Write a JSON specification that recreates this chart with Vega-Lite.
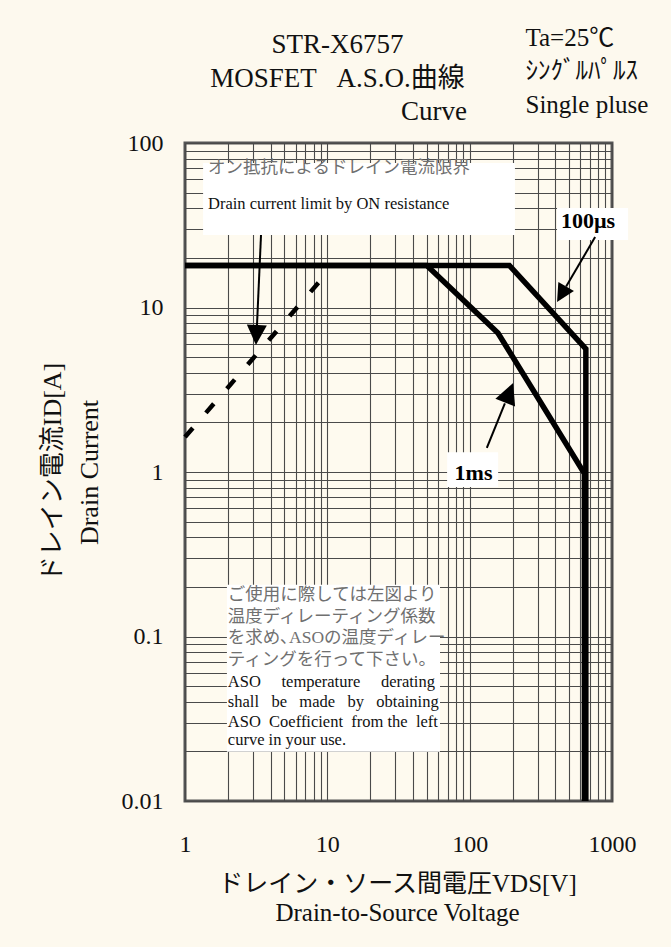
{
  "$schema": "https://vega.github.io/schema/vega-lite/v6.json",
  "width": 427,
  "height": 658,
  "autosize": {"type": "none"},
  "padding": {"left": 185, "top": 143, "right": 59, "bottom": 146},
  "background": "#fdf9ee",
  "config": {
    "view": {"stroke": "#555555", "strokeWidth": 3, "fill": "#fefaef"},
    "font": "Liberation Serif"
  },
  "datasets": {
    "curves": [
      {"series": "100us", "k": 1, "v": 1, "i": 18},
      {"series": "100us", "k": 2, "v": 190, "i": 18},
      {"series": "100us", "k": 3, "v": 655, "i": 5.6},
      {"series": "100us", "k": 4, "v": 655, "i": 0.01},
      {"series": "1ms", "k": 1, "v": 1, "i": 18},
      {"series": "1ms", "k": 2, "v": 50, "i": 18},
      {"series": "1ms", "k": 3, "v": 158, "i": 7},
      {"series": "1ms", "k": 4, "v": 640, "i": 0.98},
      {"series": "1ms", "k": 5, "v": 640, "i": 0.01}
    ],
    "ron": [
      {"v": 1, "i": 1.63},
      {"v": 8.7, "i": 14.2}
    ],
    "arrows": [
      {"id": "a1", "x": 3.42, "y": 27.6, "x2": 3.2, "y2": 7.6},
      {"id": "a2", "x": 761, "y": 26.8, "x2": 476, "y2": 13.4},
      {"id": "a3", "x": 132, "y": 1.4, "x2": 176.8, "y2": 2.61}
    ],
    "heads": [
      {"id": "a1", "x": 3.15, "y": 5.92},
      {"id": "a2", "x": 411, "y": 10.8},
      {"id": "a3", "x": 202, "y": 3.48}
    ],
    "boxes": [
      {"id": "ron", "x": 1.34, "x2": 208, "y": 75.6, "y2": 27.6},
      {"id": "100us", "x": 411, "x2": 1297, "y": 40.3, "y2": 25.7},
      {"id": "1ms", "x": 69.4, "x2": 158.5, "y": 1.32, "y2": 0.81},
      {"id": "note", "x": 1.97, "x2": 61.9, "y": 0.206, "y2": 0.0199}
    ],
    "texts": [
      {"group": "jp", "x": 1.45, "y": 70.5, "text": "オン抵抗によるドレイン電流限界"},
      {"group": "en", "x": 1.45, "y": 42.6, "text": "Drain current limit by ON resistance"},
      {"group": "jp", "x": 2.0, "y": 0.1788, "text": "ご使用に際しては左図より"},
      {"group": "jp", "x": 2.0, "y": 0.1314, "text": "温度ディレーティング係数"},
      {"group": "jp", "x": 2.0, "y": 0.0979, "text": "を求め､ASOの温度ディレー"},
      {"group": "jp", "x": 2.0, "y": 0.072, "text": "ティングを行って下さい。"},
      {"group": "en", "x": 2.0, "y": 0.0529, "text": "ASO \u00a0\u00a0\u00a0\u00a0temperature \u00a0\u00a0\u00a0\u00a0derating"},
      {"group": "en", "x": 2.0, "y": 0.04, "text": "shall \u00a0\u00a0be \u00a0\u00a0made \u00a0\u00a0by \u00a0\u00a0obtaining"},
      {"group": "en", "x": 2.0, "y": 0.0302, "text": "ASO \u00a0Coefficient \u00a0from the \u00a0left"},
      {"group": "en", "x": 2.0, "y": 0.0235, "text": "curve in your use."},
      {"group": "tag", "x": 679, "y": 33.6, "text": "100µs"},
      {"group": "tag", "x": 106.5, "y": 0.993, "text": "1ms"}
    ],
    "heading": [
      {"v": 95.9, "i": 138, "label": "Curve"}
    ]
  },
  "layer": [
    {
      "data": {"name": "boxes"},
      "mark": {"type": "rect", "fill": "#ffffff", "stroke": null},
      "encoding": {
        "x": {"field": "x", "type": "quantitative", "scale": {"type": "log", "domain": [1, 1000]}, "axis": null},
        "x2": {"field": "x2"},
        "y": {"field": "y", "type": "quantitative", "scale": {"type": "log", "domain": [0.01, 100]}, "axis": null},
        "y2": {"field": "y2"}
      }
    },
    {
      "data": {"name": "curves"},
      "mark": {"type": "line", "color": "#000000", "strokeWidth": 5.5, "strokeJoin": "miter", "strokeCap": "butt"},
      "encoding": {
        "x": {
          "field": "v", "type": "quantitative",
          "scale": {"type": "log", "domain": [1, 1000]},
          "axis": {
            "orient": "bottom",
            "values": [1, 2, 3, 4, 5, 6, 7, 8, 9, 10, 20, 30, 40, 50, 60, 70, 80, 90, 100, 200, 300, 400, 500, 600, 700, 800, 900, 1000],
            "grid": true, "gridColor": "#4a4a4a", "gridWidth": 1.1, "gridOpacity": 1,
            "ticks": false, "tickSize": 0, "domain": false,
            "labelExpr": "indexof([1,10,100,1000], datum.value) >= 0 ? toString(datum.value) : ''",
            "labelFont": "Liberation Serif", "labelFontSize": 24, "labelColor": "#111111",
            "labelPadding": 31, "labelOverlap": false, "labelFlush": false, "labelBound": false,
            "title": ["ドレイン・ソース間電圧VDS[V]", "Drain-to-Source Voltage"],
            "titleFont": "Liberation Serif, Noto Sans CJK JP", "titleFontSize": 25, "titleFontWeight": "normal", "titleColor": "#111111",
            "titleX": 212, "titleY": 90, "titleAlign": "center", "titleBaseline": "alphabetic", "titleLineHeight": 29
          }
        },
        "y": {
          "field": "i", "type": "quantitative",
          "scale": {"type": "log", "domain": [0.01, 100]},
          "axis": {
            "orient": "left",
            "values": [0.01, 0.02, 0.03, 0.04, 0.05, 0.06, 0.07, 0.08, 0.09, 0.1, 0.2, 0.3, 0.4, 0.5, 0.6, 0.7, 0.8, 0.9, 1, 2, 3, 4, 5, 6, 7, 8, 9, 10, 20, 30, 40, 50, 60, 70, 80, 90, 100],
            "grid": true, "gridColor": "#4a4a4a", "gridWidth": 1.1, "gridOpacity": 1,
            "ticks": false, "tickSize": 0, "domain": false,
            "labelExpr": "indexof([0.01,0.1,1,10,100], datum.value) >= 0 ? toString(datum.value) : ''",
            "labelFont": "Liberation Serif", "labelFontSize": 24, "labelColor": "#111111",
            "labelPadding": 22, "labelOverlap": false, "labelBound": false, "labelFlush": false,
            "title": ["ドレイン電流ID[A]", "Drain Current"],
            "titleFont": "Liberation Serif, Noto Sans CJK JP", "titleFontSize": 26, "titleFontWeight": "normal", "titleColor": "#111111",
            "titleAngle": 270, "titleX": -133, "titleY": 329, "titleAlign": "center", "titleBaseline": "middle", "titleLineHeight": 37
          }
        },
        "detail": {"field": "series"},
        "order": {"field": "k", "type": "quantitative"}
      }
    },
    {
      "data": {"name": "ron"},
      "mark": {"type": "line", "color": "#000000", "strokeWidth": 4.5, "strokeDash": [12, 20], "strokeCap": "butt"},
      "encoding": {
        "x": {"field": "v", "type": "quantitative", "scale": {"type": "log", "domain": [1, 1000]}, "axis": null},
        "y": {"field": "i", "type": "quantitative", "scale": {"type": "log", "domain": [0.01, 100]}, "axis": null}
      }
    },
    {
      "data": {"name": "arrows"},
      "mark": {"type": "rule", "color": "#000000", "strokeWidth": 2},
      "encoding": {
        "x": {"field": "x", "type": "quantitative", "scale": {"type": "log", "domain": [1, 1000]}, "axis": null},
        "x2": {"field": "x2"},
        "y": {"field": "y", "type": "quantitative", "scale": {"type": "log", "domain": [0.01, 100]}, "axis": null},
        "y2": {"field": "y2"}
      }
    },
    {
      "data": {"name": "heads"},
      "transform": [{"filter": "datum.id == 'a1'"}],
      "mark": {"type": "point", "shape": "M0,0L-0.5,1L0.5,1Z", "filled": true, "color": "#000000", "opacity": 1, "size": 1600, "angle": 182.6, "strokeWidth": 0},
      "encoding": {
        "x": {"field": "x", "type": "quantitative", "scale": {"type": "log", "domain": [1, 1000]}, "axis": null},
        "y": {"field": "y", "type": "quantitative", "scale": {"type": "log", "domain": [0.01, 100]}, "axis": null}
      }
    },
    {
      "data": {"name": "heads"},
      "transform": [{"filter": "datum.id == 'a2'"}],
      "mark": {"type": "point", "shape": "M0,0L-0.5,1L0.5,1Z", "filled": true, "color": "#000000", "opacity": 1, "size": 1300, "angle": 210.3, "strokeWidth": 0},
      "encoding": {
        "x": {"field": "x", "type": "quantitative", "scale": {"type": "log", "domain": [1, 1000]}, "axis": null},
        "y": {"field": "y", "type": "quantitative", "scale": {"type": "log", "domain": [0.01, 100]}, "axis": null}
      }
    },
    {
      "data": {"name": "heads"},
      "transform": [{"filter": "datum.id == 'a3'"}],
      "mark": {"type": "point", "shape": "M0,0L-0.5,1L0.5,1Z", "filled": true, "color": "#000000", "opacity": 1, "size": 1800, "angle": 21.8, "strokeWidth": 0},
      "encoding": {
        "x": {"field": "x", "type": "quantitative", "scale": {"type": "log", "domain": [1, 1000]}, "axis": null},
        "y": {"field": "y", "type": "quantitative", "scale": {"type": "log", "domain": [0.01, 100]}, "axis": null}
      }
    },
    {
      "data": {"name": "texts"},
      "transform": [{"filter": "datum.group == 'jp'"}],
      "mark": {"type": "text", "align": "left", "baseline": "middle", "font": "Liberation Serif, Noto Sans CJK JP", "fontSize": 17.5, "color": "#707070"},
      "encoding": {
        "x": {"field": "x", "type": "quantitative", "scale": {"type": "log", "domain": [1, 1000]}, "axis": null},
        "y": {"field": "y", "type": "quantitative", "scale": {"type": "log", "domain": [0.01, 100]}, "axis": null},
        "text": {"field": "text"}
      }
    },
    {
      "data": {"name": "texts"},
      "transform": [{"filter": "datum.group == 'en'"}],
      "mark": {"type": "text", "align": "left", "baseline": "middle", "font": "Liberation Serif", "fontSize": 16.5, "color": "#111111"},
      "encoding": {
        "x": {"field": "x", "type": "quantitative", "scale": {"type": "log", "domain": [1, 1000]}, "axis": null},
        "y": {"field": "y", "type": "quantitative", "scale": {"type": "log", "domain": [0.01, 100]}, "axis": null},
        "text": {"field": "text"}
      }
    },
    {
      "data": {"name": "texts"},
      "transform": [{"filter": "datum.group == 'tag'"}],
      "mark": {"type": "text", "align": "center", "baseline": "middle", "font": "Liberation Serif", "fontSize": 22, "fontWeight": "bold", "color": "#000000"},
      "encoding": {
        "x": {"field": "x", "type": "quantitative", "scale": {"type": "log", "domain": [1, 1000]}, "axis": null},
        "y": {"field": "y", "type": "quantitative", "scale": {"type": "log", "domain": [0.01, 100]}, "axis": null},
        "text": {"field": "text"}
      }
    },
    {
      "data": {"name": "heading"},
      "mark": {"type": "text", "align": "right", "baseline": "alphabetic", "font": "Liberation Serif", "fontSize": 27, "color": "#111111"},
      "encoding": {
        "x": {
          "field": "v", "type": "quantitative",
          "scale": {"type": "log", "domain": [1, 1000]},
          "axis": {
            "orient": "top", "labels": false, "ticks": false, "tickSize": 0, "domain": false, "grid": false,
            "title": ["STR-X6757", "MOSFET \u00a0\u00a0A.S.O.曲線"],
            "titleFont": "Liberation Serif, Noto Sans CJK JP", "titleFontSize": 27, "titleFontWeight": "normal", "titleColor": "#111111",
            "titleX": 152, "titleY": -91, "titleAlign": "center", "titleBaseline": "alphabetic", "titleLineHeight": 34
          }
        },
        "y": {
          "field": "i", "type": "quantitative",
          "scale": {"type": "log", "domain": [0.01, 100]},
          "axis": {
            "orient": "right", "labels": false, "ticks": false, "tickSize": 0, "domain": false, "grid": false,
            "title": ["Ta=25℃", "ｼﾝｸﾞﾙﾊﾟﾙｽ", "Single pluse"],
            "titleFont": "Liberation Serif, Noto Sans CJK JP", "titleFontSize": 25, "titleFontWeight": "normal", "titleColor": "#111111",
            "titleAngle": 0, "titleX": -87, "titleY": -98, "titleAlign": "left", "titleBaseline": "alphabetic", "titleLineHeight": 33.5
          }
        },
        "text": {"field": "label"}
      }
    }
  ],
  "resolve": {"axis": {"x": "independent", "y": "independent"}}
}
